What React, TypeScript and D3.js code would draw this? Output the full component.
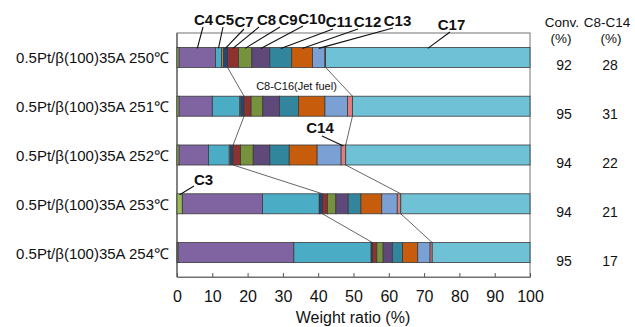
import React, { useEffect, useRef } from "react";
import * as d3 from "d3";

// reactor runs, top to bottom
const rowLabels = [
  "0.5Pt/β(100)35A 250℃",
  "0.5Pt/β(100)35A 251℃",
  "0.5Pt/β(100)35A 252℃",
  "0.5Pt/β(100)35A 253℃",
  "0.5Pt/β(100)35A 254℃",
];

const seriesNames = ["C3", "C4", "C5", "C6", "C7", "C8", "C9", "C10", "C11", "C12", "C13", "C14", "C17"];

// weight ratio (%) per carbon number, one value per run
const c3 = [0.6, 0.6, 0.6, 1.5, 0.3];
const c4 = [10.3, 9.4, 8.3, 22.7, 32.8];
const c5 = [1.7, 7.8, 5.9, 16.1, 21.9];
const c6 = [0.5, 0.3, 0.3, 0.2, 0.1];
const c7 = [1.2, 0.9, 0.8, 0.7, 0.3];
const c8 = [3.1, 2.0, 2.1, 1.4, 1.2];
const c9 = [3.8, 3.3, 3.6, 2.4, 1.8];
const c10 = [5.1, 4.7, 4.7, 3.5, 2.6];
const c11 = [6.2, 5.4, 5.5, 3.6, 2.9];
const c12 = [5.9, 7.5, 7.9, 5.9, 4.3];
const c13 = [3.5, 6.4, 6.8, 4.4, 3.5];
const c14 = [0.2, 1.4, 1.3, 1.0, 0.6];
const c17 = [57.9, 50.3, 52.2, 36.6, 27.7];

const conversion = [92, 95, 94, 94, 95];
const jetShare = [28, 31, 22, 21, 17];

const xTicks = [0, 10, 20, 30, 40, 50, 60, 70, 80, 90, 100];

const colors: Record<string, string> = {
  C3: "#9bbb59",
  C4: "#8064a2",
  C5: "#4bacc6",
  C6: "#f79646",
  C7: "#1f497d",
  C8: "#8e3131",
  C9: "#76923c",
  C10: "#5f497a",
  C11: "#31859c",
  C12: "#c75c0c",
  C13: "#7ba0d4",
  C14: "#e27d7f",
  C17: "#6fc1d6",
};

// callout labels above the first bar: text centre, baseline, line start x
const topLabels = [
  { name: "C4", tx: 203.5, ty: 25, lx: 203 },
  { name: "C5", tx: 224.5, ty: 25, lx: 223 },
  { name: "C7", tx: 244, ty: 27, lx: 244 },
  { name: "C8", tx: 266.5, ty: 25, lx: 259 },
  { name: "C9", tx: 288, ty: 25, lx: 280 },
  { name: "C10", tx: 312, ty: 24, lx: 303 },
  { name: "C11", tx: 339, ty: 27, lx: 333 },
  { name: "C12", tx: 367.5, ty: 27, lx: 358 },
  { name: "C13", tx: 397.5, ty: 26, lx: 393 },
  { name: "C17", tx: 451.5, ty: 30, lx: 450 },
];

const W = 635;
const H = 327;
const font = "'Liberation Sans', Arial, sans-serif";

export default function App() {
  const axisRef = useRef<SVGGElement>(null);

  const x = d3.scaleLinear().domain([0, 100]).range([177, 530]);
  const y = d3.scaleBand<string>().domain(rowLabels).range([33, 277]).paddingInner(0.59).paddingOuter(0.295);

  const cols = [c3, c4, c5, c6, c7, c8, c9, c10, c11, c12, c13, c14, c17];
  const table = rowLabels.map((row, i) => {
    const o: any = { row };
    seriesNames.forEach((k, j) => (o[k] = cols[j][i]));
    return o;
  });
  const stacked = d3.stack<any>().keys(seriesNames)(table);
  const byKey: Record<string, d3.Series<any, string>> = {};
  stacked.forEach((s) => (byKey[s.key] = s));

  const bw = y.bandwidth();
  const top = (i: number) => y(rowLabels[i])!;
  const mid = (k: string, i: number) => x((byKey[k][i][0] + byKey[k][i][1]) / 2);
  const jetStart = (i: number) => x(byKey["C8"][i][0]);
  const jetEnd = (i: number) => x(byKey["C14"][i][1]);

  useEffect(() => {
    if (!axisRef.current) return;
    const g = d3.select(axisRef.current);
    g.selectAll("*").remove();
    g.call(d3.axisBottom(x).tickValues(xTicks).tickSizeInner(-4).tickSizeOuter(0).tickPadding(14));
    g.select(".domain").attr("stroke", "#707070");
    g.selectAll(".tick line").attr("stroke", "#555");
    g.selectAll(".tick text").attr("font-size", 16).attr("font-family", font).attr("fill", "#111");
  });

  return (
    <div style={{ position: "absolute", left: 0, top: 0 }}>
      <svg width={W} height={H} style={{ display: "block", background: "#fff" }} fontFamily={font}>
        <rect x={x(0)} y={33} width={x(100) - x(0)} height={277 - 33} fill="none" stroke="#8a8a8a" strokeWidth={1.2} />
        <line x1={x(0)} x2={x(0)} y1={33} y2={277} stroke="#6a6a6a" strokeWidth={1.4} />

        {/* jet fuel brackets */}
        {rowLabels.slice(0, -1).map((_, i) => (
          <g key={"br" + i} stroke="#555" strokeWidth={0.9}>
            <line x1={jetStart(i)} y1={top(i) + bw} x2={jetStart(i + 1)} y2={top(i + 1)} />
            <line x1={jetEnd(i)} y1={top(i) + bw} x2={jetEnd(i + 1)} y2={top(i + 1)} />
          </g>
        ))}

        {stacked.map((s) => (
          <g key={s.key} fill={colors[s.key]}>
            {s.map((d, i) => (
              <rect
                key={i}
                x={x(d[0])}
                y={top(i)}
                width={Math.max(0, x(d[1]) - x(d[0]))}
                height={bw}
                stroke="#3a3a3a"
                strokeWidth={0.8}
              />
            ))}
          </g>
        ))}

        <g ref={axisRef} transform={`translate(0,277)`} />

        {rowLabels.map((r, i) => (
          <text key={r} x={169} y={top(i) + bw / 2 + 6} textAnchor="end" fontSize={15} fill="#111">
            {r}
          </text>
        ))}

        {/* table at right */}
        <text x={562} y={27} textAnchor="middle" fontSize={13.5} fill="#111">Conv.</text>
        <text x={561} y={43} textAnchor="middle" fontSize={13.5} fill="#111">(%)</text>
        <text x={607} y={27} textAnchor="middle" fontSize={13.5} fill="#111">C8-C14</text>
        <text x={611} y={43} textAnchor="middle" fontSize={13.5} fill="#111">(%)</text>
        {rowLabels.map((r, i) => (
          <g key={"t" + i} fontSize={14} fill="#111" textAnchor="middle">
            <text x={564} y={top(i) + bw / 2 + 13}>{conversion[i]}</text>
            <text x={610} y={top(i) + bw / 2 + 13}>{jetShare[i]}</text>
          </g>
        ))}

        {/* callouts */}
        {topLabels.map((l) => (
          <g key={l.name}>
            <line x1={l.lx} y1={l.ty + 2} x2={mid(l.name, 0)} y2={top(0) + 1} stroke="#111" strokeWidth={1.1} />
            <text x={l.tx} y={l.ty} textAnchor="middle" fontSize={15} fontWeight="bold" fill="#111">
              {l.name}
            </text>
          </g>
        ))}
        <line x1={194} y1={186} x2={mid("C3", 3)} y2={top(3) + 1} stroke="#111" strokeWidth={1.1} />
        <text x={203.5} y={185} textAnchor="middle" fontSize={15} fontWeight="bold" fill="#111">C3</text>
        <line x1={322} y1={136} x2={mid("C14", 2)} y2={top(2) + 1} stroke="#111" strokeWidth={1.1} />
        <text x={320} y={133} textAnchor="middle" fontSize={15} fontWeight="bold" fill="#111">C14</text>
        <text x={296.5} y={90} textAnchor="middle" fontSize={11} fill="#111">C8-C16(Jet fuel)</text>

        <text x={353} y={323} textAnchor="middle" fontSize={16} fill="#111">Weight ratio (%)</text>
      </svg>
    </div>
  );
}
